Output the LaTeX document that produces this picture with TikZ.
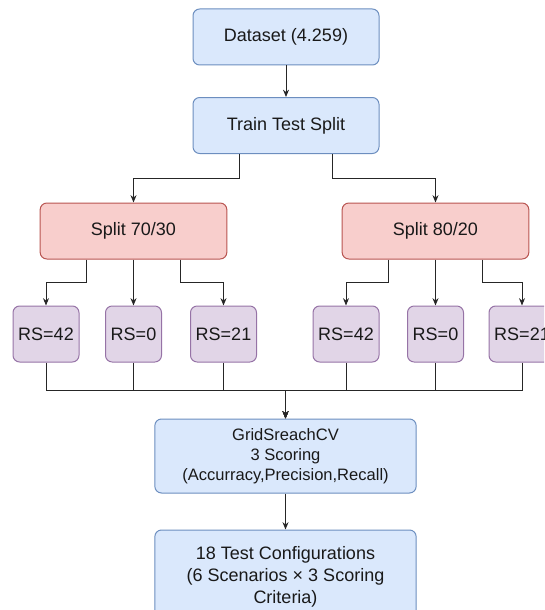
\documentclass[tikz,border=0pt]{standalone}
\usepackage{fontspec}
\setmainfont{Liberation Sans}
\usetikzlibrary{arrows.meta,calc}
\definecolor{blueFill}{HTML}{DAE8FC}
\definecolor{blueLine}{HTML}{6C8EBF}
\definecolor{redFill}{HTML}{F8CECC}
\definecolor{redLine}{HTML}{B85450}
\definecolor{purpleFill}{HTML}{E1D5E7}
\definecolor{purpleLine}{HTML}{9673A6}

\begin{document}
\begin{tikzpicture}[x=0.75pt,y=-0.75pt,
    box/.style={draw,rounded corners=5pt,line width=0.75pt,inner sep=0pt,
      minimum height=42pt,align=center,text=black!90,
      font=\fontsize{13.5}{16.3}\selectfont},
    bluebox/.style={box,fill=blueFill,draw=blueLine},
    redbox/.style={box,fill=redFill,draw=redLine,minimum width=140pt},
    purplebox/.style={box,fill=purpleFill,draw=purpleLine},
    link/.style={draw=black!85,line width=0.75pt,
      -{Stealth[length=5.5pt,width=4.5pt]}}]
  \useasboundingbox (0,0) rectangle (544,610);
  \clip (0,0) rectangle (544,610);
  \node[bluebox,minimum width=139.5pt] (data) at (286,37) {Dataset (4.259)};
  \node[bluebox,minimum width=139.5pt] (tts) at (286,125.5) {Train Test Split};
  \node[redbox] (s70) at (133.5,231) {Split 70/30};
  \node[redbox] (s80) at (435.5,231) {Split 80/20};
  \foreach \n/\x/\v/\w in {a1/46/42/49.5,a2/133.5/0/42,a3/223.5/21/49.5,
                           b1/346/42/49.5,b2/435.5/0/42,b3/522/21/49.5}{
    \node[purplebox,minimum width=\w pt] (\n) at (\x,334) {RS=\v};
  }
  \node[bluebox,minimum width=196pt,minimum height=55.5pt,
    font=\fontsize{12.4}{15}\selectfont] (grid) at (285.5,456)
    {GridSreachCV\\3 Scoring\\(Accurracy,Precision,Recall)};
  \node[bluebox,minimum width=196pt,minimum height=70.5pt] (conf) at (285.5,577)
    {18 Test Configurations\\(6 Scenarios × 3 Scoring\\Criteria)};
  \draw[link] (data) -- (tts);
  \foreach \s/\t/\f in {tts/s70/.25,tts/s80/.75,s70/a1/.25,s70/a2/.5,s70/a3/.75,
                        s80/b1/.25,s80/b2/.5,s80/b3/.75}{
    \coordinate (o) at ($(\s.south west)!\f!(\s.south east)$);
    \draw[link] (o) |- ($(o)!.5!(\t.north)$) -| (\t.north);
  }
  \foreach \r in {a1,a2,a3,b1,b2,b3}{
    \draw[link] (\r.south) |- ($(\r.south)!.5!(grid.north)$) -| (grid.north);
  }
  \draw[link] (grid) -- (conf);
\end{tikzpicture}
\end{document}
